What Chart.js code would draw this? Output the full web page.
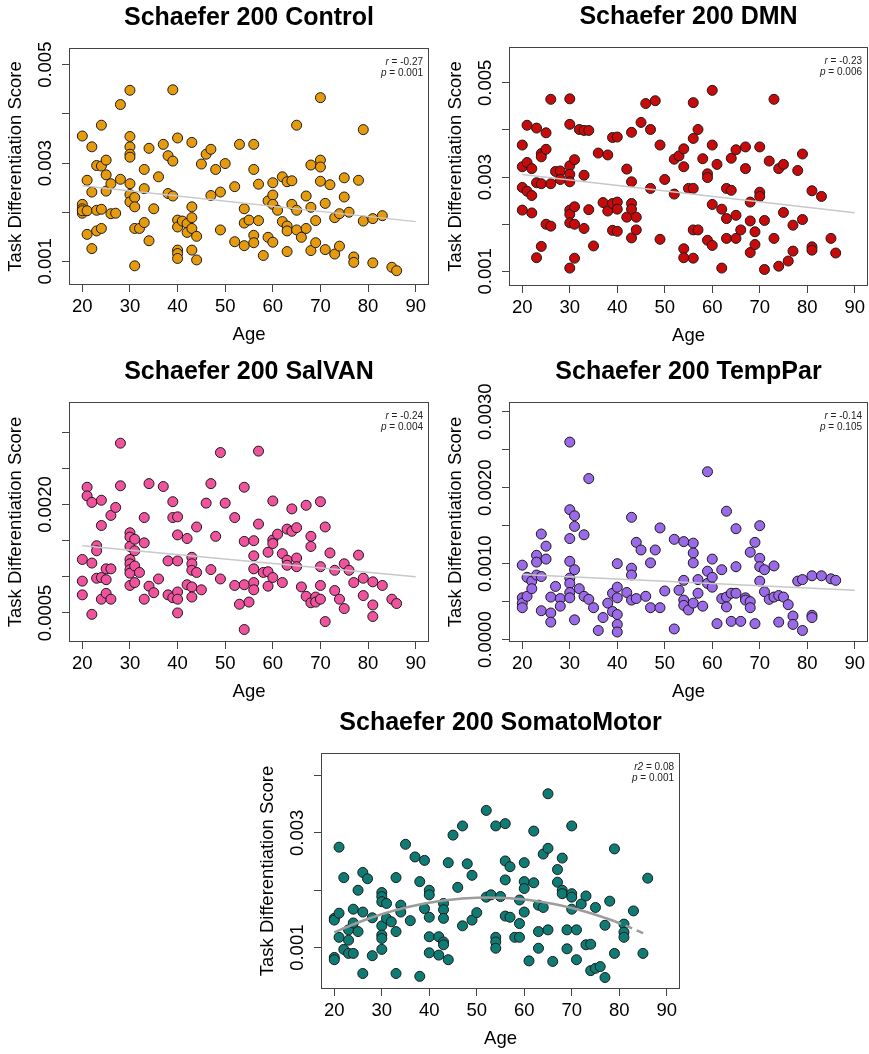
<!DOCTYPE html>
<html>
<head>
<meta charset="utf-8">
<script src="https://cdn.jsdelivr.net/npm/chart.js@4.4.1/dist/chart.umd.min.js"></script>
<style>
html, body { margin: 0; padding: 0; background: #fff; width: 869px; height: 1054px; overflow: hidden; position: relative; }
canvas { position: absolute; }
</style>
</head>
<body>
<canvas id="control"></canvas>
<canvas id="dmn"></canvas>
<canvas id="salvan"></canvas>
<canvas id="temppar"></canvas>
<canvas id="somato"></canvas>
<script>
// ages and scores, one line per age
const ageTicks = [20, 30, 40, 50, 60, 70, 80, 90];
const fitAges = [20, 90];

const controlAge = [
  20, 20, 20, 20, 20,  21, 21, 21,  22, 22, 22,  23, 23, 23,  24, 24, 24, 24,
  25, 25, 25,  26, 26,  27,  28, 28,
  30, 30, 30, 30, 30, 30, 30, 30,  31, 31, 31, 31,  32,  33, 33, 33,  34, 34,
  35,  36,  37,  38, 38,  39, 39, 39,
  40, 40, 40, 40, 40, 40,  41,  42, 42,  43, 43, 43, 43, 43,  44, 44,
  45,  46,  47, 47,  48,  49, 49,  50,  52, 52,  53,  54, 54, 54,  55,
  56, 56, 56, 56,  57, 57,  58,  59, 59,  60, 60, 60, 60,  61,  62, 62,
  63, 63, 63, 63,  64, 64,  65, 65, 65,  66,  67, 67,  68, 68, 68,  69, 69,
  70, 70, 70, 70,  71, 71,  72,  73, 73,  74, 74,  75, 75,  76,  77, 77,
  78,  79, 79,  81, 81,  83,  85,  86
];
const controlScore = [
  0.00355, 0.00216, 0.00207, 0.00198, 0.00203,  0.00265, 0.00155, 0.00203,  0.00333, 0.00241, 0.00126,  0.00295, 0.00204, 0.00162,  0.00377, 0.00294, 0.00206, 0.00167,
  0.00306, 0.00276, 0.00243,  0.00258, 0.00197,  0.00198,  0.00419, 0.00267,
  0.00448, 0.00354, 0.00333, 0.00318, 0.00312, 0.00258, 0.00236, 0.00221,  0.0023, 0.00211, 0.00167, 0.00091,  0.00167,  0.00287, 0.00248, 0.00179,  0.0033, 0.00142,
  0.00207,  0.00272,  0.00338,  0.00315, 0.00238,  0.00449, 0.00304, 0.00233,
  0.00351, 0.00184, 0.0017, 0.00123, 0.00116, 0.00106,  0.00182,  0.00177, 0.00159,  0.00342, 0.00211, 0.00189, 0.00167, 0.00123,  0.00151, 0.00103,
  0.00298,  0.00318,  0.00328, 0.00234,  0.00287,  0.00241, 0.00164,  0.00299,  0.00252, 0.0014,  0.00338,  0.00207, 0.00178, 0.00132,  0.00184,
  0.00338, 0.00287, 0.00153, 0.00138,  0.00257, 0.00183,  0.00112,  0.00223, 0.00149,  0.0026, 0.00235, 0.00216, 0.00139,  0.00204,  0.00272, 0.00181,
  0.00262, 0.00172, 0.00162, 0.0012,  0.00264, 0.00216,  0.00377, 0.00204, 0.00164,  0.00149,  0.00233, 0.00167,  0.00296, 0.0021, 0.00122,  0.00183, 0.00138,
  0.00433, 0.00306, 0.00292, 0.00263,  0.00218, 0.00124,  0.00256,  0.00189, 0.00115,  0.00197, 0.00131,  0.0027, 0.00231,  0.002,  0.00109, 0.00098,
  0.00265,  0.00368, 0.00182,  0.00187, 0.00097,  0.00193,  0.00088,  0.00081
];
const controlTicks = [0.001, 0.002, 0.003, 0.004, 0.005];
const controlTickLabels = ['0.001', '', '0.003', '', '0.005'];
const controlStats = ['r', '-0.27', '0.001'];

const dmnAge = [
  20, 20, 20, 20,  21, 21, 21,  22, 22, 22,  23, 23, 23,  24, 24, 24, 24,  25, 25, 25,
  26, 26, 26,  27,  28, 28,
  30, 30, 30, 30, 30, 30, 30, 30, 30,  31, 31, 31, 31,  32,  33, 33, 33,  34, 34,
  35,  36,  37,  38, 38,  39, 39, 39,  40, 40, 40, 40,  42, 42,  43, 43, 43, 43, 43,
  44, 44,  45,  46,  47, 47,  48,  49, 49,  50,  52, 52,  53,  54, 54, 54, 54,  55,
  56, 56, 56, 56, 56,  57, 57,  58,  59, 59, 59,  60, 60, 60, 60,  61,  62, 62,
  63, 63, 63,  64, 64,  65, 65, 65,  66,  67, 67,  68, 68, 68,  69, 69,  70, 70, 70,
  71, 71,  72,  73, 73,  74, 74,  75, 75,  76,  77, 77,  78,  79, 79,  81, 81, 81,
  83,  85,  86
];
const dmnScore = [
  0.00368, 0.00322, 0.00278, 0.0023,  0.0041, 0.00331, 0.0027,  0.00318, 0.00261, 0.00224,  0.00404, 0.00288, 0.00129,  0.0035, 0.00343, 0.00286, 0.00153,  0.00394, 0.00359, 0.002,
  0.00465, 0.00286, 0.00196,  0.00312,  0.00313, 0.00295,
  0.00466, 0.00412, 0.00324, 0.00306, 0.0029, 0.0023, 0.00221, 0.00203, 0.00107,  0.00337, 0.00237, 0.002, 0.00128,  0.00401,  0.00399, 0.00304, 0.00191,  0.00399, 0.00231,
  0.00154,  0.00351,  0.00246,  0.00347, 0.00228,  0.00384, 0.00244, 0.00187,  0.00385, 0.00247, 0.00232, 0.00185,  0.00317, 0.00215,  0.00395, 0.0029, 0.00244, 0.00232, 0.00171,
  0.00215, 0.00188,  0.00416,  0.00456,  0.00401, 0.00276,  0.00462,  0.00368, 0.00168,  0.00295,  0.00338, 0.00264,  0.00345,  0.0036, 0.00322, 0.00148, 0.00129,  0.00276,
  0.00458, 0.00382, 0.00276, 0.00188, 0.00128,  0.00401, 0.00188,  0.00339,  0.00307, 0.00299, 0.00166,  0.00484, 0.00368, 0.00242, 0.00155,  0.00327,  0.00232, 0.00107,
  0.00276, 0.00212, 0.0017,  0.00272, 0.0034,  0.00358, 0.00219, 0.0017,  0.00188,  0.00364, 0.00318,  0.00247, 0.00207, 0.0014,  0.00184, 0.00157,  0.00364, 0.00268, 0.00259,
  0.00208, 0.00104,  0.00334,  0.00465, 0.0017,  0.00318, 0.00111,  0.00327, 0.00225,  0.00122,  0.00198, 0.00143,  0.00314,  0.00349, 0.0021,  0.00271, 0.00152, 0.00145,
  0.00259,  0.0017,  0.00139
];
const dmnTicks = [0.001, 0.002, 0.003, 0.004, 0.005];
const dmnTickLabels = ['0.001', '', '0.003', '', '0.005'];
const dmnStats = ['r', '-0.23', '0.006'];

const salvanAge = [
  20, 20, 20,  21, 21,  22, 22, 22,  23, 23, 23,  24, 24, 24, 24,  25, 25, 25,  26, 26, 26,
  27,  28, 28,
  30, 30, 30, 30, 30, 30, 30, 30,  31, 31, 31, 31,  32,  33, 33, 33,  34, 34,  35,  36,  37,
  38, 38,  39, 39, 39,  40, 40, 40, 40, 40, 40,  42, 42,  43, 43, 43, 43, 43,  44, 44,
  45,  46,  47, 47,  48,  49, 49,  50,  52, 52,  53,  54, 54, 54, 54,  55,
  56, 56, 56, 56, 56,  57, 57,  58,  59, 59, 59,  60, 60, 60, 60,  61,  62, 62,
  63, 63, 63,  64, 64,  65, 65, 65,  66,  67, 67,  68, 68, 68,  69, 69,  70, 70, 70, 70,
  71, 71,  72,  73, 73,  74,  75, 75,  76,  77,  78,  79, 79,  81, 81, 81,  83,  85,  86
];
const salvanScore = [
  0.00124, 0.00094, 0.00075,  0.00224, 0.00212,  0.00203, 0.00119, 0.00048,  0.00143, 0.00136, 0.00098,  0.00206, 0.00171, 0.00099, 0.00069,  0.00111, 0.00096, 0.00077,  0.00185, 0.00111, 0.00069,
  0.00196,  0.00285, 0.00226,
  0.00161, 0.00155, 0.00142, 0.00124, 0.00118, 0.0011, 0.00105, 0.00088,  0.00152, 0.00136, 0.00115, 0.00092,  0.00106,  0.00182, 0.00147, 0.00069,  0.00229, 0.00087,  0.00078,  0.00097,  0.00225,
  0.00122, 0.00075,  0.00204, 0.00182, 0.00071,  0.00183, 0.00158, 0.00122, 0.00079, 0.00069, 0.0005,  0.00153, 0.00089,  0.00127, 0.00118, 0.00109, 0.00086, 0.00072,  0.00169, 0.00106,
  0.00082,  0.00202,  0.00229, 0.0011,  0.00156,  0.00272, 0.00097,  0.00202,  0.00182, 0.00088,  0.00062,  0.00224, 0.00149, 0.00089, 0.00027,  0.00065,
  0.0015, 0.00129, 0.00111, 0.00092, 0.00082,  0.00274, 0.00173,  0.00106,  0.00134, 0.00107, 0.00087,  0.00205, 0.00151, 0.00146, 0.00099,  0.00159,  0.00132, 0.00092,
  0.00166, 0.00123, 0.00116,  0.00194, 0.00163,  0.00168, 0.00126, 0.00114,  0.00086,  0.00199, 0.00073,  0.00156, 0.00142, 0.00064,  0.00072, 0.00065,  0.00204, 0.00114, 0.00088, 0.00069,
  0.00169, 0.00038,  0.00133,  0.00109, 0.00081,  0.00069,  0.00118, 0.00056,  0.00109,  0.00092,  0.0013,  0.00098, 0.00074,  0.00093, 0.00061, 0.00045,  0.00088,  0.00069,  0.00063
];
const salvanTicks = [0.0005, 0.001, 0.0015, 0.002, 0.0025, 0.003];
const salvanTickLabels = ['0.0005', '', '', '0.0020', '', ''];
const salvanStats = ['r', '-0.24', '0.004'];

const tempparAge = [
  20, 20, 20, 20,  21, 21,  22, 22,  23, 23, 23,  24, 24, 24,  25, 25,  26, 26, 26,  27,  28, 28,
  30, 30, 30, 30, 30, 30, 30, 30,  31, 31, 31, 31,  32,  33, 33,  34, 34,  35,  36,  37,  38,
  39, 39,  40, 40, 40, 40, 40, 40,  42,  43, 43, 43, 43,  44, 44,  45,  46,  47, 47,  48,
  49, 49,  50,  52, 52,  53,  54, 54, 54, 54,  55,  56, 56, 56, 56,  57, 57,  58,
  59, 59, 59,  60, 60, 60,  61,  62, 62,  63, 63, 63,  64, 64,  65, 65, 65,  66,  67, 67,
  68, 68, 68,  69, 69,  70, 70, 70, 70,  71, 71,  72,  73, 73,  74, 74,  75,  76,  77, 77,
  78,  79, 79,  81, 81, 81,  83,  85,  86
];
const tempparScore = [
  0.00098, 0.00055, 0.00048, 0.00042,  0.00082, 0.00057,  0.00077, 0.00067,  0.00111, 0.00102, 0.00085,  0.00139, 0.00083, 0.00038,  0.00123, 0.00106,  0.00056, 0.00035, 0.00023,  0.0007,  0.00054, 0.00044,
  0.0026, 0.00171, 0.00133, 0.00103, 0.00081, 0.00074, 0.00062, 0.00055,  0.00163, 0.00149, 0.00092, 0.00026,  0.00067,  0.00138, 0.00057,  0.00212, 0.00053,  0.00042,  0.00012,  0.00029,  0.00048,
  0.00061, 0.00037,  0.001, 0.00069, 0.00055, 0.00033, 0.0002, 0.0001,  0.00062,  0.00161, 0.00094, 0.00085, 0.00052,  0.00128, 0.00054,  0.00118,  0.00057,  0.00101, 0.00042,  0.00118,
  0.00147, 0.00042,  0.00064,  0.00132, 0.00014,  0.00065,  0.00129, 0.00078, 0.00052, 0.00045,  0.00039,  0.00127, 0.00114, 0.00101, 0.00048,  0.00079, 0.00061,  0.00044,
  0.00221, 0.0009, 0.00074,  0.00106, 0.00082, 0.00069,  0.00021,  0.00092, 0.00054,  0.00169, 0.00056, 0.00043,  0.00061, 0.00024,  0.00146, 0.00096, 0.00061,  0.00024,  0.00055, 0.00052,
  0.00115, 0.0005, 0.00042,  0.00128, 0.00021,  0.0015, 0.00107, 0.00096, 0.00077,  0.00092, 0.00063,  0.00053,  0.00097, 0.00056,  0.00058, 0.00023,  0.00056,  0.00046,  0.00031, 0.0002,
  0.00077,  0.00079, 0.00012,  0.00084, 0.00032, 0.00029,  0.00084,  0.0008,  0.00078
];
const tempparTicks = [0, 0.0005, 0.001, 0.0015, 0.002, 0.0025, 0.003];
const tempparTickLabels = ['0.0000', '', '0.0010', '', '0.0020', '', '0.0030'];
const tempparStats = ['r', '-0.14', '0.105'];

const somatoAge = [
  20, 20, 20, 20,  21, 21, 21,  22, 22,  23, 23, 23,  24, 24, 24,  25, 25,  26, 26, 26,  27,  28, 28,
  30, 30, 30, 30, 30, 30, 30,  31, 31,  32,  33, 33, 33,  34, 34,  35,  36,  37,  38, 38,  39, 39,
  40, 40, 40, 40, 40,  42, 42,  43, 43, 43, 43, 43,  44, 44,  45,  46,  47, 47,  48,  49, 49,  50,
  52, 52,  53,  54, 54, 54, 54,  55,  56, 56, 56, 56,  57, 57,  58,  59, 59, 59,  60, 60, 60, 60,
  61,  62, 62,  63, 63, 63,  64, 64,  65, 65, 65,  66,  67, 67,  68, 68, 68,  69, 69,  70, 70, 70, 70,
  71, 71,  72,  73, 73,  74, 74,  75, 75,  76,  77, 77,  78,  79, 79,  81, 81, 81,  83,  85,  86
];
const somatoScore = [
  0.00151, 0.00148, 0.00083, 0.00079,  0.00275, 0.0016, 0.00118,  0.00222, 0.00097,  0.00131, 0.00113, 0.0009,  0.00167, 0.00143, 0.0009,  0.002, 0.00128,  0.00231, 0.00162, 0.00055,  0.0022,  0.00152, 0.00086,
  0.00196, 0.00189, 0.0018, 0.00138, 0.00122, 0.00116, 0.00097,  0.00177, 0.00151,  0.00145,  0.00222, 0.00128, 0.00055,  0.00174, 0.00162,  0.0028,  0.00147,  0.00258,  0.00215, 0.0005,  0.00252, 0.00168,
  0.002, 0.00192, 0.00153, 0.00119, 0.00091,  0.00119, 0.00087,  0.00177, 0.00166, 0.00151, 0.0011, 0.00105,  0.00248, 0.00079,  0.00296,  0.00205,  0.00312, 0.00138,  0.00246,  0.00226, 0.00148,  0.00161,
  0.00339, 0.00188,  0.00192,  0.00312, 0.00118, 0.0011, 0.00099,  0.00189,  0.00316, 0.00251, 0.00218, 0.00155,  0.00241, 0.00153,  0.00118,  0.00183, 0.00142, 0.00118,  0.00248, 0.00215, 0.00203, 0.00162,
  0.00077,  0.00303, 0.00213,  0.00174, 0.00128, 0.00099,  0.00263, 0.0017,  0.00368, 0.00273, 0.00131,  0.00076,  0.00236, 0.00214,  0.00256, 0.002, 0.00194,  0.00131, 0.00098,  0.00312, 0.00194, 0.00188, 0.00167,
  0.00131, 0.00079,  0.00176,  0.0019, 0.00105,  0.00106, 0.0006,  0.0017, 0.00064,  0.00067,  0.00139, 0.00048,  0.00181,  0.00272, 0.0009,  0.00141, 0.00127, 0.00118,  0.00164,  0.0009,  0.00221
];
const somatoTicks = [0.001, 0.002, 0.003, 0.004];
const somatoTickLabels = ['0.001', '', '0.003', ''];
const somatoStats = ['r2', '0.08', '0.001'];

const family = "'Liberation Sans', Arial, Helvetica, sans-serif";
const axisFont = { family: family, size: 18.5 };

function linearFit(xs, ys) {
  const n = xs.length;
  const mx = xs.reduce((s, v) => s + v, 0) / n;
  const my = ys.reduce((s, v) => s + v, 0) / n;
  let sxy = 0, sxx = 0;
  xs.forEach((x, i) => { sxy += (x - mx) * (ys[i] - my); sxx += (x - mx) * (x - mx); });
  const b = sxy / sxx;
  return x => my + b * (x - mx);
}

function det3(m) {
  return m[0][0] * (m[1][1] * m[2][2] - m[1][2] * m[2][1])
       - m[0][1] * (m[1][0] * m[2][2] - m[1][2] * m[2][0])
       + m[0][2] * (m[1][0] * m[2][1] - m[1][1] * m[2][0]);
}

function quadFit(xs, ys) {
  const mx = xs.reduce((s, v) => s + v, 0) / xs.length;
  const s = [0, 0, 0, 0, 0], t = [0, 0, 0];
  xs.forEach((x, i) => {
    const u = x - mx;
    for (let k = 0; k < 5; k++) s[k] += Math.pow(u, k);
    for (let k = 0; k < 3; k++) t[k] += Math.pow(u, k) * ys[i];
  });
  const m = [[s[0], s[1], s[2]], [s[1], s[2], s[3]], [s[2], s[3], s[4]]];
  const d = det3(m);
  const c = [0, 1, 2].map(j => det3(m.map((row, r) => row.map((v, k) => k === j ? t[r] : v))) / d);
  return x => { const u = x - mx; return c[0] + c[1] * u + c[2] * u * u; };
}

// y labels are rotated, so shift them back next to the ticks
function tickPad(labels) {
  const ctx = document.createElement('canvas').getContext('2d');
  ctx.font = '18.5px ' + family;
  let w = 0;
  labels.forEach(l => { w = Math.max(w, ctx.measureText(l).width); });
  return 23.5 - 7 - w / 2;
}

const boxPlugin = {
  id: 'box',
  afterDraw(chart) {
    const a = chart.chartArea, ctx = chart.ctx;
    ctx.save();
    ctx.strokeStyle = '#444';
    ctx.lineWidth = 1;
    ctx.strokeRect(Math.round(a.left) + 0.5, Math.round(a.top) + 0.5,
      Math.round(a.right - a.left) - 1, Math.round(a.bottom - a.top) - 1);
    ctx.restore();
  }
};

const statsPlugin = {
  id: 'stats',
  afterDraw(chart, args, opts) {
    const a = chart.chartArea, ctx = chart.ctx;
    const rows = [[opts.text[0], ' = ' + opts.text[1]], ['p', ' = ' + opts.text[2]]];
    ctx.save();
    ctx.fillStyle = '#222';
    ctx.textAlign = 'right';
    ctx.textBaseline = 'alphabetic';
    rows.forEach((row, i) => {
      const x = a.right - 6;
      const y = a.top + 16.5 + i * 11.7;
      ctx.font = '10px ' + family;
      const w = ctx.measureText(row[1]).width;
      ctx.fillText(row[1], x, y);
      ctx.font = 'italic 10px ' + family;
      ctx.fillText(row[0], x - w, y);
    });
    ctx.restore();
  }
};

function drawPanel(id, box, title, ages, scores, yMin, yMax, yTicks, yLabels, colour, stats, curved) {
  const canvas = document.getElementById(id);
  canvas.width = box[1] - box[0] + 138;
  canvas.height = box[3] - box[2] + 114;
  canvas.style.left = (box[0] - 69) + 'px';
  canvas.style.top = (box[2] - 48) + 'px';

  let fitData, fitStyle;
  if (curved) {
    const f = quadFit(ages, scores);
    const xs = [...new Set(ages)].sort((p, q) => p - q);
    fitData = xs.map(x => ({ x: x, y: f(x) }));
    fitStyle = { borderColor: '#9c9c9c', borderWidth: 2.5,
      segment: { borderDash: c => c.p0.parsed.x >= 79 ? [7, 5] : undefined } };
  } else {
    const f = linearFit(ages, scores);
    fitData = fitAges.map(x => ({ x: x, y: f(x) }));
    fitStyle = { borderColor: '#c8c8c8', borderWidth: 1.5 };
  }

  const tickGrid = { drawOnChartArea: false, drawTicks: true, tickLength: 7, color: '#444', lineWidth: 1 };

  new Chart(canvas, {
    type: 'scatter',
    data: {
      datasets: [
        Object.assign({ type: 'line', data: fitData, showLine: true, pointRadius: 0, fill: false, tension: 0, order: 0 }, fitStyle),
        {
          data: ages.map((a, i) => ({ x: a, y: scores[i] })),
          backgroundColor: colour,
          borderColor: '#1a1a1a',
          borderWidth: 1,
          pointRadius: 5,
          order: 1
        }
      ]
    },
    options: {
      responsive: false,
      animation: false,
      events: [],
      layout: { padding: { left: 0, right: 0, top: 0, bottom: 2 } },
      plugins: {
        legend: { display: false },
        tooltip: { enabled: false },
        title: {
          display: true,
          text: title,
          color: '#000',
          font: { family: family, size: 25, weight: 'bold' },
          padding: { top: 3.3, bottom: 14.7 }
        },
        stats: { text: stats }
      },
      scales: {
        x: {
          type: 'linear',
          min: 17.2,
          max: 92.8,
          afterBuildTicks: s => { s.ticks = ageTicks.map(v => ({ value: v })); },
          afterFit: s => { s.height = 64; },
          grid: tickGrid,
          border: { display: false },
          ticks: { autoSkip: false, maxRotation: 0, padding: 4, color: '#000', font: axisFont,
            callback: v => String(v) },
          title: { display: true, text: 'Age', color: '#000', font: axisFont, padding: { top: 0, bottom: 3 } }
        },
        y: {
          type: 'linear',
          min: yMin,
          max: yMax,
          afterBuildTicks: s => { s.ticks = yTicks.map(v => ({ value: v })); },
          afterFit: s => { s.width = 69; },
          grid: tickGrid,
          border: { display: false },
          ticks: { autoSkip: false, minRotation: 90, maxRotation: 90, crossAlign: 'center',
            padding: tickPad(yLabels), color: '#000', font: axisFont,
            callback: (v, i) => yLabels[i] },
          title: { display: true, text: 'Task Differentiation Score', color: '#000', font: axisFont,
            padding: { top: 4.7, bottom: 0 } }
        },
        y2: {
          type: 'linear',
          position: 'right',
          afterFit: s => { s.width = 69; },
          grid: { display: false },
          border: { display: false },
          ticks: { display: false }
        }
      }
    },
    plugins: [boxPlugin, statsPlugin]
  });
}

drawPanel('control', [69, 429, 48, 285], 'Schaefer 200 Control', controlAge, controlScore,
  0.00052, 0.00534, controlTicks, controlTickLabels, '#E69B0E', controlStats, false);
drawPanel('dmn', [509, 868, 47, 286], 'Schaefer 200 DMN', dmnAge, dmnScore,
  0.00069, 0.00576, dmnTicks, dmnTickLabels, '#C80A0A', dmnStats, false);
drawPanel('salvan', [69, 429, 402, 642], 'Schaefer 200 SalVAN', salvanAge, salvanScore,
  0.0000972, 0.00342, salvanTicks, salvanTickLabels, '#F0529E', salvanStats, false);
drawPanel('temppar', [509, 868, 402, 642], 'Schaefer 200 TempPar', tempparAge, tempparScore,
  -0.0000317, 0.003128, tempparTicks, tempparTickLabels, '#9B6AE8', tempparStats, false);
drawPanel('somato', [321, 680, 753, 989], 'Schaefer 200 SomatoMotor', somatoAge, somatoScore,
  0.00028, 0.00439, somatoTicks, somatoTickLabels, '#0E7C74', somatoStats, true);
</script>
</body>
</html>
